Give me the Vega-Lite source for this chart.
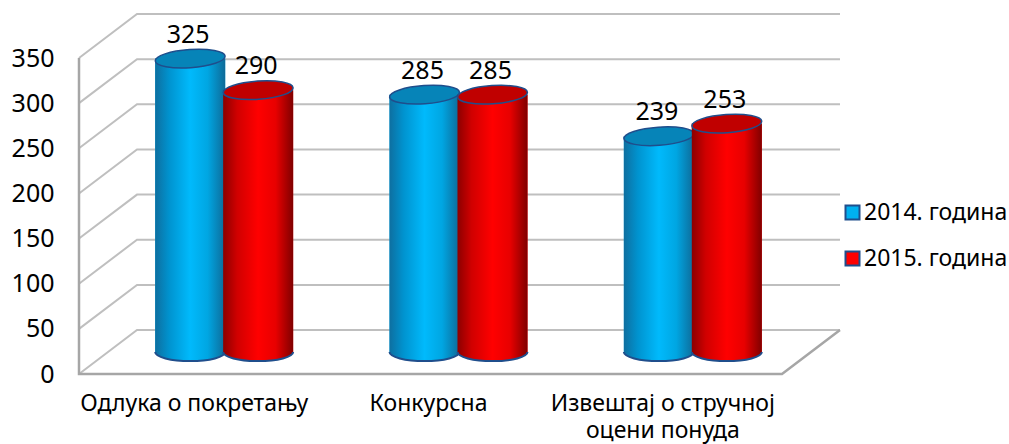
{
"$schema":"https://vega.github.io/schema/vega-lite/v6.json",
"width":703,"height":316,
"autosize":{"type":"none"},
"padding":{"left":79,"top":58,"right":227,"bottom":70},
"background":"white",
"config":{"view":{"stroke":null},"font":"Noto Sans"},
"datasets":{
"bars":[
{"category":"Одлука о покретању","year":"2014. година","value":325},
{"category":"Одлука о покретању","year":"2015. година","value":290},
{"category":"Конкурсна","year":"2014. година","value":285},
{"category":"Конкурсна","year":"2015. година","value":285},
{"category":"Извештај о стручној оцени понуда","year":"2014. година","value":239},
{"category":"Извештај о стручној оцени понуда","year":"2015. година","value":253}
],
"grid":[
{"s":"g50","i":1,"p":0,"v":50},{"s":"g50","i":2,"p":0.0825,"v":98.7},{"s":"g50","i":3,"p":1.0825,"v":98.7},
{"s":"g100","i":1,"p":0,"v":100},{"s":"g100","i":2,"p":0.0825,"v":148.7},{"s":"g100","i":3,"p":1.0825,"v":148.7},
{"s":"g150","i":1,"p":0,"v":150},{"s":"g150","i":2,"p":0.0825,"v":198.7},{"s":"g150","i":3,"p":1.0825,"v":198.7},
{"s":"g200","i":1,"p":0,"v":200},{"s":"g200","i":2,"p":0.0825,"v":248.7},{"s":"g200","i":3,"p":1.0825,"v":248.7},
{"s":"g250","i":1,"p":0,"v":250},{"s":"g250","i":2,"p":0.0825,"v":298.7},{"s":"g250","i":3,"p":1.0825,"v":298.7},
{"s":"g300","i":1,"p":0,"v":300},{"s":"g300","i":2,"p":0.0825,"v":348.7},{"s":"g300","i":3,"p":1.0825,"v":348.7},
{"s":"g350","i":1,"p":0,"v":350},{"s":"g350","i":2,"p":0.0825,"v":398.7},{"s":"g350","i":3,"p":1.0825,"v":398.7},
{"s":"g0","i":1,"p":0,"v":0},{"s":"g0","i":2,"p":0.0825,"v":48.7},{"s":"g0","i":3,"p":1.0825,"v":48.7}
],
"frame":[
{"s":"f","i":1,"p":0,"v":350},{"s":"f","i":2,"p":0,"v":0},{"s":"f","i":3,"p":1,"v":0},{"s":"f","i":4,"p":1.0825,"v":48.7}
]
},
"resolve":{"scale":{"x":"independent"},"axis":{"x":"independent"}},
"encoding":{"y":{"type":"quantitative","scale":{"domain":[0,350],"nice":false}}},
"layer":[
{"layer":[
{"data":{"name":"grid"},"mark":{"type":"line","color":"#bfbfbf","strokeWidth":2,"clip":false},
"encoding":{"x":{"field":"p","type":"quantitative","scale":{"domain":[0,1],"nice":false,"zero":false},"axis":null},
"y":{"field":"v","type":"quantitative","scale":{"domain":[0,350],"nice":false},
"axis":{"title":null,"values":[0,50,100,150,200,250,300,350],"domain":false,"ticks":false,"grid":false,"labelFontSize":25,"labelFont":"Noto Sans","labelColor":"#000000","labelPadding":25}},
"detail":{"field":"s"},"order":{"field":"i"}}},
{"data":{"name":"frame"},"mark":{"type":"line","color":"#a6a6a6","strokeWidth":2.5,"clip":false},
"encoding":{"x":{"field":"p","type":"quantitative"},
"y":{"field":"v","type":"quantitative"},
"detail":{"field":"s"},"order":{"field":"i"}}}
]},
{"data":{"name":"bars"},
"encoding":{
"x":{"field":"category","type":"nominal","sort":null,
"scale":{"range":[28,731],"paddingInner":0.42,"paddingOuter":0.21},
"axis":{"orient":"bottom","title":null,"domain":false,"ticks":false,"labelAngle":0,"labelOffset":-30,"labelFontSize":23,"labelFont":"Noto Sans","labelColor":"#000000","labelPadding":18,"labelLimit":300,"labelLineHeight":27,
"labelExpr":"length(datum.label)>20 ? [slice(datum.label,0,19), slice(datum.label,20)] : datum.label"}},
"xOffset":{"field":"year","type":"nominal","sort":null},
"y":{"field":"value","type":"quantitative"}
},
"layer":[
{"mark":{"type":"bar","width":70,"yOffset":-22,"y2Offset":-22},
"encoding":{"y":{"field":"value","type":"quantitative","stack":null},"y2":{"datum":0},
"color":{"field":"year","type":"nominal","sort":null,"scale":{"range":["#00B0F0","#FF0000"]},
"legend":{"title":null,"orient":"none","legendX":762,"legendY":143,"symbolType":"square","symbolSize":196,"symbolStrokeColor":"#1F4E8C","symbolStrokeWidth":2,"labelFontSize":23,"labelFont":"Noto Sans","labelColor":"#000000","rowPadding":22,"labelOffset":0,"symbolOpacity":1}}}},
{"transform":[{"filter":"datum.year=='2014. година'"}],"mark":{"type":"bar","width":70,"yOffset":-22,"y2Offset":-22,"color":{"gradient":"linear","x1":0,"x2":1,"y1":0,"y2":0,"stops":[{"offset":0,"color":"#0E6FA0"},{"offset":0.2,"color":"#0093CF"},{"offset":0.5,"color":"#00BAFC"},{"offset":0.75,"color":"#00A6E2"},{"offset":1,"color":"#0E6A98"}]}},
"encoding":{"y":{"field":"value","type":"quantitative","stack":null},"y2":{"datum":0}}},
{"transform":[{"filter":"datum.year=='2014. година'"}],"mark":{"type":"point","filled":true,"opacity":1,"shape":"M-1,0A1,0.26,0,0,0,1,0","size":4900,"fill":{"gradient":"linear","x1":0,"x2":1,"y1":0,"y2":0,"stops":[{"offset":0,"color":"#0E6FA0"},{"offset":0.2,"color":"#0093CF"},{"offset":0.5,"color":"#00BAFC"},{"offset":0.75,"color":"#00A6E2"},{"offset":1,"color":"#0E6A98"}]},"stroke":"#1F4E8C","strokeWidth":2,"yOffset":-22},
"encoding":{"y":{"datum":0}}},
{"transform":[{"filter":"datum.year=='2014. година'"}],"mark":{"type":"point","filled":true,"opacity":1,"angle":-4,"shape":"M-1,0A1,0.26,0,1,1,1,0A1,0.26,0,1,1,-1,0Z","size":4900,"color":"#0684B8","stroke":"#1F4E8C","strokeWidth":1.5,"yOffset":-22}},
{"transform":[{"filter":"datum.year=='2015. година'"}],"mark":{"type":"bar","width":70,"yOffset":-22,"y2Offset":-22,"color":{"gradient":"linear","x1":0,"x2":1,"y1":0,"y2":0,"stops":[{"offset":0,"color":"#8C0000"},{"offset":0.2,"color":"#D00000"},{"offset":0.5,"color":"#FF0000"},{"offset":0.75,"color":"#E80000"},{"offset":1,"color":"#800000"}]}},
"encoding":{"y":{"field":"value","type":"quantitative","stack":null},"y2":{"datum":0}}},
{"transform":[{"filter":"datum.year=='2015. година'"}],"mark":{"type":"point","filled":true,"opacity":1,"shape":"M-1,0A1,0.26,0,0,0,1,0","size":4900,"fill":{"gradient":"linear","x1":0,"x2":1,"y1":0,"y2":0,"stops":[{"offset":0,"color":"#8C0000"},{"offset":0.2,"color":"#D00000"},{"offset":0.5,"color":"#FF0000"},{"offset":0.75,"color":"#E80000"},{"offset":1,"color":"#800000"}]},"stroke":"#1F4E8C","strokeWidth":2,"yOffset":-22},
"encoding":{"y":{"datum":0}}},
{"transform":[{"filter":"datum.year=='2015. година'"}],"mark":{"type":"point","filled":true,"opacity":1,"angle":-4,"shape":"M-1,0A1,0.26,0,1,1,1,0A1,0.26,0,1,1,-1,0Z","size":4900,"color":"#C00000","stroke":"#1F4E8C","strokeWidth":1.5,"yOffset":-22}},
{"mark":{"type":"text","fontSize":25,"font":"Noto Sans","color":"#000000","baseline":"middle","yOffset":-46,"dx":-2},
"encoding":{"text":{"field":"value","type":"quantitative"}}}
]}
]
}
